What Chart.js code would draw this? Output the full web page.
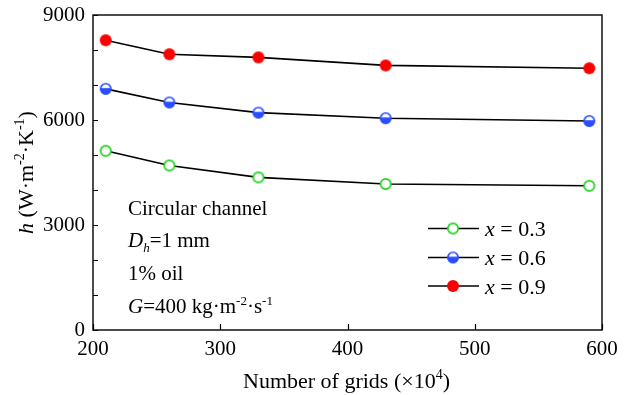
<!DOCTYPE html>
<html>
<head>
<meta charset="utf-8">
<script src="https://cdn.jsdelivr.net/npm/chart.js@4.4.1/dist/chart.umd.min.js"></script>
<style>
  html, body { margin: 0; padding: 0; background: #fff; }
  #chart { display: block; }
</style>
</head>
<body>
<canvas id="chart" width="633" height="395"></canvas>
<script>
// number of grids (x10^4)
const grids = [210, 260, 330, 430, 590];
// heat transfer coefficient h for each vapour quality
const hX03 = [5120, 4700, 4360, 4170, 4120];
const hX06 = [6890, 6500, 6210, 6050, 5970];
const hX09 = [8280, 7880, 7790, 7560, 7480];
const qualities = ['0.3', '0.6', '0.9'];
const xTicks = [200, 300, 400, 500, 600];
const yLabelTicks = [0, 3000, 6000, 9000];

const FONT = "'Liberation Serif', 'Times New Roman', serif";
const FS = 21;

function makeMarker(kind) {
    const c = document.createElement('canvas');
    c.width = 14; c.height = 14;
    const g = c.getContext('2d');
    const cx = 7, cy = 7;
    if (kind === 'solid') {
        g.fillStyle = '#ff0000';
        g.beginPath(); g.arc(cx, cy, 6, 0, Math.PI * 2); g.fill();
    } else if (kind === 'open') {
        g.fillStyle = '#fff';
        g.strokeStyle = '#1ed41e';
        g.lineWidth = 1.7;
        g.beginPath(); g.arc(cx, cy, 5.2, 0, Math.PI * 2); g.fill(); g.stroke();
    } else {
        g.fillStyle = '#fff';
        g.beginPath(); g.arc(cx, cy, 5.5, 0, Math.PI * 2); g.fill();
        g.save();
        g.beginPath(); g.arc(cx, cy, 5.5, 0, Math.PI * 2); g.clip();
        g.fillStyle = '#2a4dff';
        g.fillRect(0, cy - 0.8, 14, 14);
        g.restore();
        g.strokeStyle = '#2a4dff';
        g.lineWidth = 1.6;
        g.beginPath(); g.arc(cx, cy, 5.2, 0, Math.PI * 2); g.stroke();
    }
    return c;
}

const markers = [makeMarker('open'), makeMarker('half'), makeMarker('solid')];
const seriesValues = [hX03, hX06, hX09];

function drawRuns(ctx, runs, x, y, size, align) {
    const parts = runs.map(r => {
        const s = (r.sup || r.sub) ? Math.round(size * 0.64) : size;
        const font = (r.italic ? 'italic ' : '') + s + 'px ' + FONT;
        ctx.font = font;
        return { t: r.t, font, w: ctx.measureText(r.t).width, dy: r.sup ? -size * 0.4 : (r.sub ? size * 0.22 : 0) };
    });
    const total = parts.reduce((a, p) => a + p.w, 0);
    let cx = align === 'center' ? x - total / 2 : x;
    ctx.textAlign = 'left';
    ctx.textBaseline = 'alphabetic';
    parts.forEach(p => {
        ctx.font = p.font;
        ctx.fillText(p.t, cx, y + p.dy);
        cx += p.w;
    });
}

const decorations = {
    id: 'decorations',
    afterDraw(chart) {
        const ctx = chart.ctx;
        const a = chart.chartArea;
        const xs = chart.scales.x, ys = chart.scales.y;
        ctx.save();
        ctx.strokeStyle = '#000';
        ctx.fillStyle = '#000';

        // inward ticks
        ctx.lineWidth = 1.2;
        ctx.beginPath();
        ys.ticks.forEach(t => {
            const py = Math.round(ys.getPixelForValue(t.value)) + 0.5;
            ctx.moveTo(a.left, py); ctx.lineTo(a.left + 5, py);
        });
        xTicks.forEach(v => {
            const px = Math.round(xs.getPixelForValue(v)) + 0.5;
            ctx.moveTo(px, a.bottom); ctx.lineTo(px, a.bottom - 6);
        });
        ctx.stroke();

        // frame
        ctx.lineWidth = 1.4;
        ctx.strokeRect(a.left, a.top, a.right - a.left, a.bottom - a.top);

        // axis titles
        drawRuns(ctx, [
            { t: 'Number of grids (\u00d710' }, { t: '4', sup: true }, { t: ')' }
        ], (a.left + a.right) / 2 - 1, 388, 22, 'center');

        ctx.save();
        ctx.translate(33, (a.top + a.bottom) / 2);
        ctx.rotate(-Math.PI / 2);
        drawRuns(ctx, [
            { t: 'h', italic: true }, { t: ' (W\u00b7m' }, { t: '-2', sup: true },
            { t: '\u00b7K' }, { t: '-1', sup: true }, { t: ')' }
        ], 0, 0, 22, 'center');
        ctx.restore();

        // annotation
        const ax = 128;
        drawRuns(ctx, [{ t: 'Circular channel' }], ax, 215, FS);
        drawRuns(ctx, [{ t: 'D', italic: true }, { t: 'h', italic: true, sub: true }, { t: '=1 mm' }], ax, 247, FS);
        drawRuns(ctx, [{ t: '1% oil' }], ax, 280, FS);
        drawRuns(ctx, [
            { t: 'G', italic: true }, { t: '=400 kg\u00b7m' }, { t: '-2', sup: true },
            { t: '\u00b7s' }, { t: '-1', sup: true }
        ], ax, 313, FS);

        // legend
        const rows = [228.5, 257.5, 286];
        qualities.forEach((q, i) => {
            const ry = rows[i];
            ctx.lineWidth = 1.6;
            ctx.beginPath();
            ctx.moveTo(428, ry); ctx.lineTo(479, ry);
            ctx.stroke();
            ctx.drawImage(markers[i], 453 - 7, ry - 7);
            drawRuns(ctx, [{ t: 'x', italic: true }, { t: ' = ' + q }], 485, ry + 7.5, 22);
        });
        ctx.restore();
    }
};

new Chart(document.getElementById('chart'), {
    type: 'line',
    data: {
        datasets: seriesValues.map((vals, i) => ({
            label: 'x = ' + qualities[i],
            data: grids.map((g, j) => ({ x: g, y: vals[j] })),
            borderColor: '#000',
            borderWidth: 1.6,
            fill: false,
            tension: 0,
            pointStyle: markers[i],
            pointRadius: 6,
            pointHoverRadius: 6
        }))
    },
    options: {
        responsive: false,
        animation: false,
        devicePixelRatio: 1,
        layout: { padding: { top: 15, right: 31, left: 0, bottom: 0 } },
        plugins: { legend: { display: false }, tooltip: { enabled: false } },
        scales: {
            x: {
                type: 'linear',
                min: 200, max: 600,
                grid: { display: false, drawTicks: false, tickLength: 0 },
                border: { display: false },
                ticks: { stepSize: 100, color: '#000', padding: 7, font: { family: FONT, size: FS } },
                afterFit(s) { s.height = 65; s.paddingLeft = 0; s.paddingRight = 0; }
            },
            y: {
                min: 0, max: 9000,
                grid: { display: false, drawTicks: false, tickLength: 0 },
                border: { display: false },
                ticks: {
                    stepSize: 1000, autoSkip: false, color: '#000', padding: 8,
                    font: { family: FONT, size: FS },
                    callback: v => (yLabelTicks.includes(v) ? String(v) : '')
                },
                afterFit(s) { s.width = 93; s.paddingTop = 0; s.paddingBottom = 0; }
            }
        }
    },
    plugins: [decorations]
});
</script>
</body>
</html>
